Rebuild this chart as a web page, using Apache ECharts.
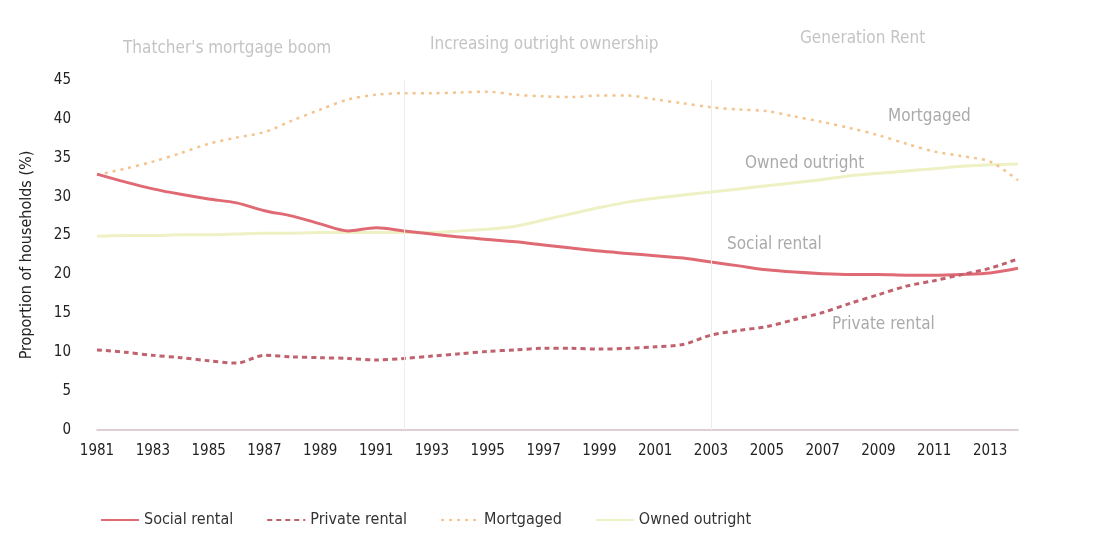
<!DOCTYPE html>
<html>
<head>
<meta charset="utf-8">
<script src="https://cdn.jsdelivr.net/npm/echarts@6/dist/echarts.min.js"></script>
<style>
  html, body { margin: 0; padding: 0; background: #fff; }
  #chart { width: 1101px; height: 537px; }
</style>
</head>
<body>
<div id="chart"></div>
<script>
var years = []
for (var y = 1981; y <= 2014; y++) years.push(String(y))

// values (% of households)
var socialRental = [32.9, 31.9, 31.0, 30.3, 29.7, 29.2, 28.2, 27.5, 26.5, 25.6, 26.0, 25.6, 25.2, 24.8, 24.5, 24.2, 23.8, 23.4, 23.0, 22.7, 22.4, 22.1, 21.6, 21.1, 20.6, 20.3, 20.1, 20.0, 20.0, 19.9, 19.9, 20.0, 20.2, 20.8]
var privateRental = [10.3, 10.0, 9.6, 9.3, 8.9, 8.6, 9.6, 9.4, 9.3, 9.2, 9.0, 9.2, 9.5, 9.8, 10.1, 10.3, 10.5, 10.5, 10.4, 10.5, 10.7, 11.0, 12.2, 12.8, 13.3, 14.2, 15.1, 16.3, 17.4, 18.5, 19.2, 20.0, 20.8, 22.0]
var mortgaged = [32.8, 33.6, 34.5, 35.6, 36.8, 37.6, 38.3, 39.8, 41.2, 42.5, 43.1, 43.3, 43.3, 43.4, 43.5, 43.1, 42.9, 42.8, 43.0, 43.0, 42.5, 42.0, 41.5, 41.2, 41.0, 40.3, 39.6, 38.8, 37.9, 36.8, 35.8, 35.2, 34.5, 32.1]
var ownedOutright = [24.9, 25.0, 25.0, 25.1, 25.1, 25.2, 25.3, 25.3, 25.4, 25.4, 25.4, 25.4, 25.4, 25.6, 25.8, 26.2, 27.0, 27.8, 28.6, 29.3, 29.8, 30.2, 30.6, 31.0, 31.4, 31.8, 32.2, 32.7, 33.0, 33.3, 33.6, 33.9, 34.1, 34.2]

var eraBreaks = ['1992', '2003']
var eras = ["Thatcher's mortgage boom", 'Increasing outright ownership', 'Generation Rent']

var narrow = '"Liberation Sans Narrow", "DejaVu Sans Condensed", sans-serif'

var chart = echarts.init(document.getElementById('chart'))

function inlineLabel(text, x, y) {
  return {
    type: 'text',
    left: x,
    top: y,
    style: { text: text, fill: '#aaa', font: '17px ' + narrow }
  }
}

var option = {
  animation: false,
  backgroundColor: '#fff',
  grid: { left: 97, right: 83, top: 80, bottom: 107 },
  legend: {
    left: 95,
    bottom: 4,
    itemWidth: 38,
    itemHeight: 12,
    itemGap: 33,
    itemStyle: { opacity: 0 },
    textStyle: { color: '#333', fontSize: 16, fontFamily: narrow },
    data: ['Social rental', 'Private rental', 'Mortgaged', 'Owned outright']
  },
  xAxis: {
    type: 'category',
    data: years,
    boundaryGap: false,
    axisLine: { lineStyle: { color: '#d2bfc4', width: 1.5 } },
    axisTick: { show: false },
    axisLabel: { interval: 1, color: '#222', fontSize: 15, fontFamily: narrow, margin: 14 },
    splitLine: { show: false }
  },
  yAxis: {
    type: 'value',
    min: 0,
    max: 45,
    interval: 5,
    name: 'Proportion of households (%)',
    nameLocation: 'middle',
    nameGap: 62,
    nameTextStyle: { color: '#222', fontSize: 16, fontFamily: narrow },
    axisLine: { show: false },
    axisTick: { show: false },
    axisLabel: { color: '#222', fontSize: 15, fontFamily: narrow, margin: 26 },
    splitLine: { show: false }
  },
  graphic: [
    { type: 'text', left: 123, top: 40, style: { text: eras[0], fill: '#c4c4c4', font: '17px ' + narrow } },
    { type: 'text', left: 430, top: 36, style: { text: eras[1], fill: '#c4c4c4', font: '17px ' + narrow } },
    { type: 'text', left: 800, top: 30, style: { text: eras[2], fill: '#c4c4c4', font: '17px ' + narrow } },
    inlineLabel('Mortgaged', 888, 108),
    inlineLabel('Owned outright', 745, 155),
    inlineLabel('Social rental', 727, 236),
    inlineLabel('Private rental', 832, 316)
  ],
  series: [
    {
      name: 'Owned outright',
      type: 'line',
      data: ownedOutright,
      symbol: 'none',
      smooth: 0.3,
      itemStyle: { color: '#eef1c4' },
      lineStyle: { color: '#eef1c4', width: 3 },
      markLine: {
        silent: true,
        symbol: 'none',
        label: { show: false },
        lineStyle: { color: '#ececec', width: 1, type: 'solid' },
        data: eraBreaks.map(function (b) { return { xAxis: b } })
      }
    },
    {
      name: 'Mortgaged',
      type: 'line',
      data: mortgaged,
      symbol: 'none',
      smooth: 0.3,
      itemStyle: { color: '#f3c48e' },
      lineStyle: { color: '#f3c48e', width: 2.5, type: [3, 5] }
    },
    {
      name: 'Social rental',
      type: 'line',
      data: socialRental,
      symbol: 'none',
      smooth: 0.3,
      itemStyle: { color: '#e06a74' },
      lineStyle: { color: '#e06a74', width: 3 }
    },
    {
      name: 'Private rental',
      type: 'line',
      data: privateRental,
      symbol: 'none',
      smooth: 0.3,
      itemStyle: { color: '#c0626e' },
      lineStyle: { color: '#c0626e', width: 3, type: [5, 4] }
    }
  ]
}

chart.setOption(option)
</script>
</body>
</html>
